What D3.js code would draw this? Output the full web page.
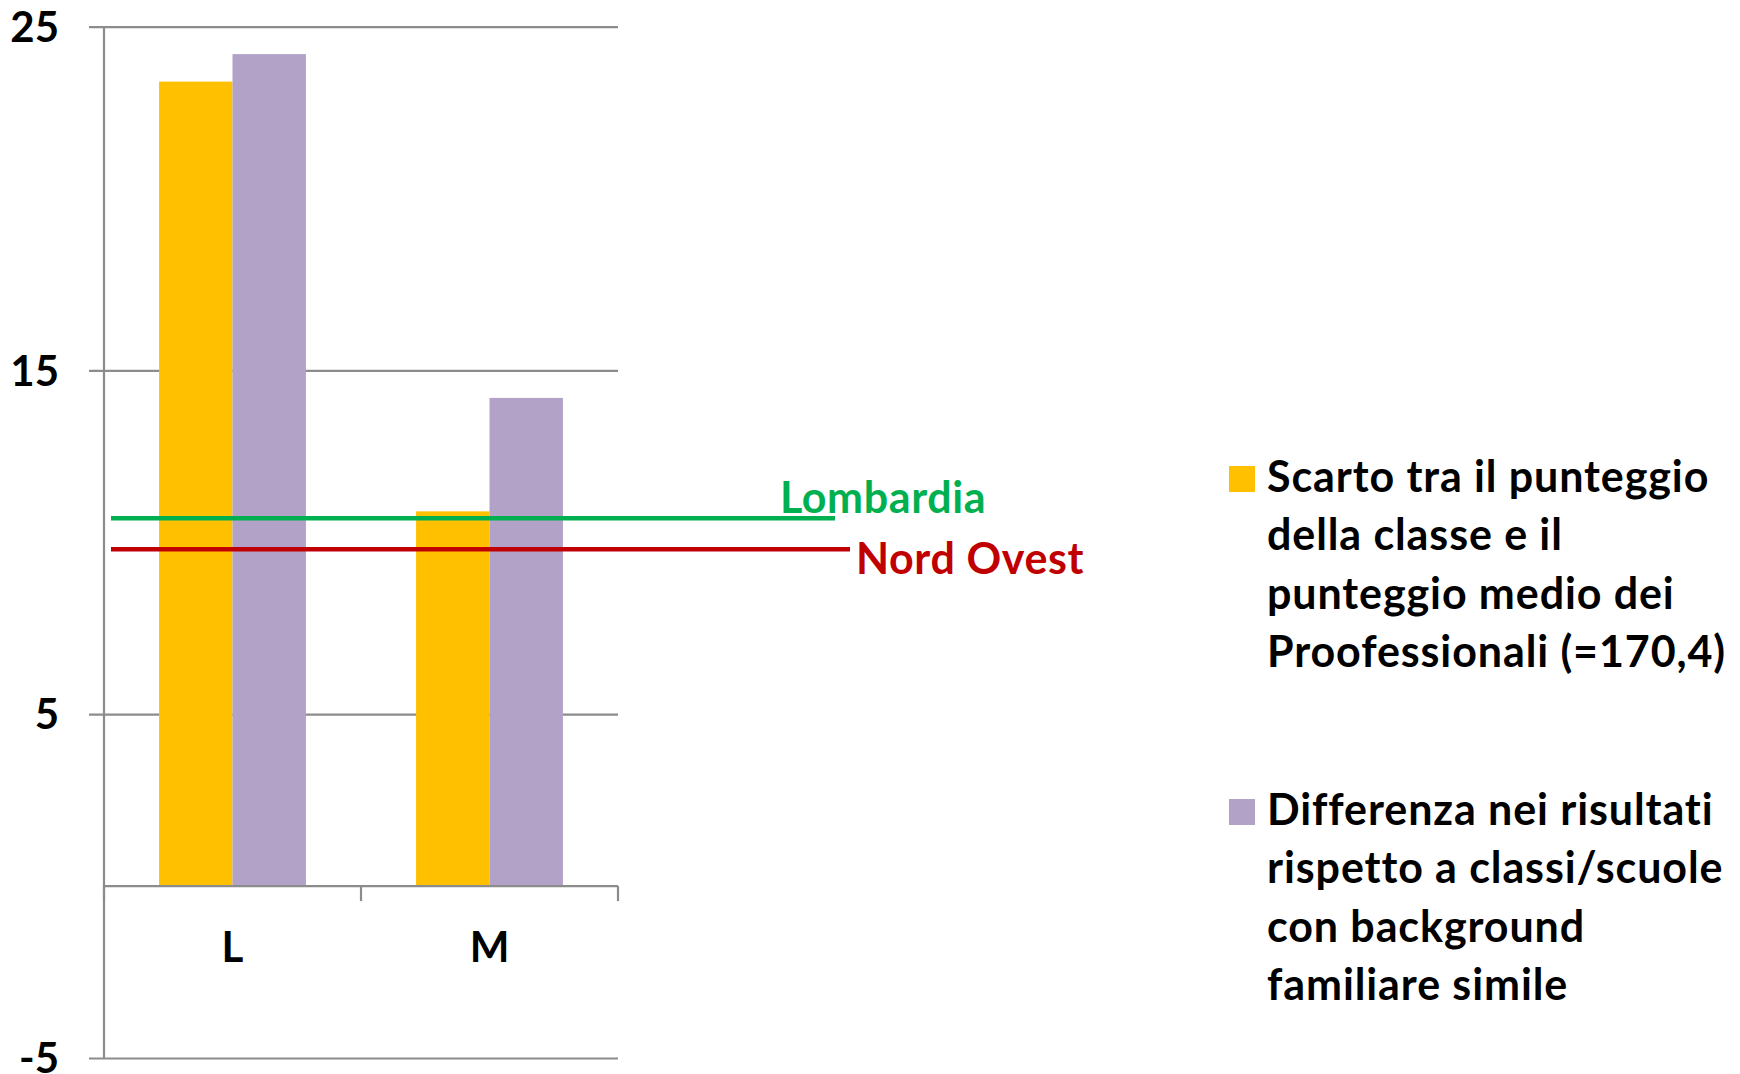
<!DOCTYPE html>
<html>
<head>
<meta charset="utf-8">
<script src="https://cdn.jsdelivr.net/npm/d3@7"></script>
<style>
  html, body { margin: 0; padding: 0; background: #ffffff; }
  svg { display: block; }
  text { font-family: Lato, "Open Sans", sans-serif; font-weight: 700; }
</style>
</head>
<body>
<svg id="chart" width="1740" height="1074"></svg>
<script>
// Categories and series
const categories = ["L", "M"];
const seriesNames = [
  "Scarto tra il punteggio della classe e il punteggio medio dei Proofessionali (=170,4)",
  "Differenza nei risultati rispetto a classi/scuole con background familiare simile"
];
const scartoValues = [23.4, 10.9];
const differenzaValues = [24.2, 14.2];

// Reference levels
const refNames = ["Lombardia", "Nord Ovest"];
const refValues = [10.7, 9.8];

// Axis ticks
const yTicks = [-5, 5, 15, 25];

// Legend text, one array of lines per series
const legendLines = [
  ["Scarto tra il punteggio", "della classe e il", "punteggio medio dei", "Proofessionali (=170,4)"],
  ["Differenza nei risultati", "rispetto a classi/scuole", "con background", "familiare simile"]
];

const colors = ["#FFC000", "#B2A2C7"];
const refColors = ["#00B050", "#C00000"];
const gridColor = "#8C8C8C";

const svg = d3.select("#chart");
svg.append("rect").attr("width", 1740).attr("height", 1074).attr("fill", "#fff");

const plot = { left: 104, right: 618, top: 26.6, bottom: 1058 };

const y = d3.scaleLinear().domain([-5, 25]).range([plot.bottom, plot.top]);
const x = d3.scaleBand().domain(categories).range([plot.left, plot.right]).paddingInner(0).paddingOuter(0);
const xs = d3.scaleBand().domain([0, 1]).range([0, x.bandwidth()]).paddingInner(0).paddingOuter(0.75);

// Gridlines with left tick marks
const yAxis = d3.axisLeft(y).tickValues(yTicks)
  .tickSize(-(plot.right - plot.left))
  .tickFormat(d => String(d))
  .tickPadding(0);
const gy = svg.append("g").attr("transform", `translate(${plot.left},0)`).call(yAxis);
gy.select(".domain").remove();
gy.selectAll(".tick line")
  .attr("x1", -15)
  .attr("stroke", gridColor).attr("stroke-width", 2.2);
gy.selectAll(".tick text")
  .attr("x", -45)
  .attr("dy", "0.35em")
  .attr("fill", "#000")
  .style("font-size", "42px")
  .style("font-family", "Lato, sans-serif")
  .style("font-weight", 700);

// Vertical value axis line
svg.append("line")
  .attr("x1", plot.left).attr("x2", plot.left)
  .attr("y1", y(25)).attr("y2", y(-5))
  .attr("stroke", gridColor).attr("stroke-width", 2.2);

// Bars
const data = categories.map((c, i) => ({ cat: c, values: [scartoValues[i], differenzaValues[i]] }));
const groups = svg.append("g").selectAll("g").data(data).join("g")
  .attr("transform", d => `translate(${x(d.cat)},0)`);
groups.selectAll("rect").data(d => d.values.map((v, k) => ({ v, k }))).join("rect")
  .attr("x", d => xs(d.k))
  .attr("width", xs.bandwidth())
  .attr("y", d => y(Math.max(0, d.v)))
  .attr("height", d => Math.abs(y(d.v) - y(0)))
  .attr("fill", d => colors[d.k]);

// Category axis at zero
const xAxis = d3.axisBottom(x).tickSize(0).tickPadding(0);
const gx = svg.append("g").attr("transform", `translate(0,${y(0)})`).call(xAxis);
gx.select(".domain").attr("stroke", gridColor).attr("stroke-width", 2.2).attr("d", `M${plot.left},0H${plot.right}`);
gx.selectAll(".tick text")
  .attr("y", 76)
  .attr("dy", 0)
  .attr("fill", "#000")
  .style("font-size", "42px")
  .style("font-family", "Lato, sans-serif")
  .style("font-weight", 700);
// Boundary ticks between categories
const bounds = [plot.left, ...categories.map(c => x(c) + x.bandwidth())];
gx.selectAll("line.bound").data(bounds).join("line")
  .attr("class", "bound")
  .attr("x1", d => d).attr("x2", d => d)
  .attr("y1", 0).attr("y2", 15)
  .attr("stroke", gridColor).attr("stroke-width", 2.2);

// Reference lines with labels
const refLineEnd = [835, 850];
const refLabelPos = [{ x: 780, dy: -5 }, { x: 856, dy: 25 }];
refValues.forEach((v, i) => {
  svg.append("line")
    .attr("x1", 111).attr("x2", refLineEnd[i])
    .attr("y1", y(v)).attr("y2", y(v))
    .attr("stroke", refColors[i]).attr("stroke-width", 4.5);
  svg.append("text")
    .attr("x", refLabelPos[i].x)
    .attr("y", y(v) + refLabelPos[i].dy)
    .attr("fill", refColors[i])
    .style("font-size", "43px")
    .style("letter-spacing", "0.6px")
    .text(refNames[i]);
});

// Legend
const legendTop = [466, 799];
const legend = svg.append("g");
seriesNames.forEach((name, i) => {
  const g = legend.append("g").attr("transform", `translate(1229,${legendTop[i]})`);
  g.append("rect").attr("width", 26).attr("height", 26).attr("fill", colors[i]);
  g.append("text")
    .attr("x", 38)
    .attr("y", 26)
    .attr("fill", "#000")
    .style("font-size", "43px")
    .style("letter-spacing", "0.9px")
    .selectAll("tspan").data(legendLines[i]).join("tspan")
    .attr("x", 38)
    .attr("dy", (d, j) => j === 0 ? 0 : 58.3)
    .text(d => d);
});
</script>
</body>
</html>
